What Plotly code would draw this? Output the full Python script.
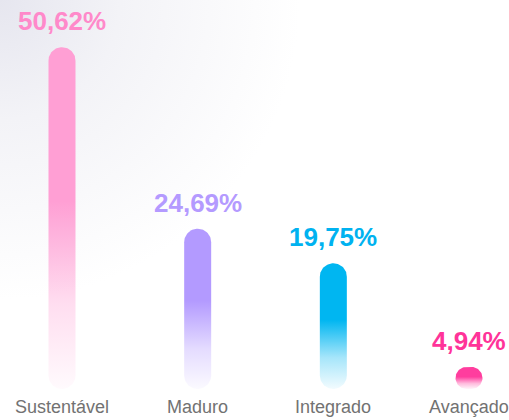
import base64
import numpy as np
import plotly.graph_objects as go

# ---- data ----
categories = ["Sustentável", "Maduro", "Integrado", "Avançado"]
values = [50.62, 24.69, 19.75, 4.94]
value_labels = ["50,62%", "24,69%", "19,75%", "4,94%"]
bar_colors = ["#FF9FD4", "#B39AFF", "#00B6F1", "#FF3D9E"]
text_colors = ["#FF89CA", "#B49AFF", "#00B2F0", "#FF3399"]

# ---- layout constants (pixels) ----
W, H = 509, 420
SPACING_PX = 135.67
FIRST_CENTER_PX = 62
PX_PER_PCT = 7.0
ZERO_FROM_BOTTOM_PX = 18.5
BAR_BASE = 1.79          # bars start slightly above zero
BAR_WIDTH_PX = 27
RADIUS_PX = 13.5

x_range = [-FIRST_CENTER_PX / SPACING_PX, (W - FIRST_CENTER_PX) / SPACING_PX]
y_range = [-ZERO_FROM_BOTTOM_PX / PX_PER_PCT, (H - ZERO_FROM_BOTTOM_PX) / PX_PER_PCT]
px_x = SPACING_PX
px_y = PX_PER_PCT


def hex_rgb(h):
    h = h.lstrip("#")
    return tuple(int(h[i:i + 2], 16) for i in (0, 2, 4))


def rounded_rect(cx, y0, y1):
    hw = BAR_WIDTH_PX / 2 / px_x
    h_px = (y1 - y0) * px_y
    r_px = min(RADIUS_PX, h_px / 2)
    rx = r_px / px_x
    ry = r_px / px_y
    xs, ys = [], []
    corners = [
        (cx + hw - rx, y1 - ry, 0, 90),
        (cx - hw + rx, y1 - ry, 90, 180),
        (cx - hw + rx, y0 + ry, 180, 270),
        (cx + hw - rx, y0 + ry, 270, 360),
    ]
    for ccx, ccy, a0, a1 in corners:
        t = np.radians(np.linspace(a0, a1, 20))
        xs.extend(ccx + rx * np.cos(t))
        ys.extend(ccy + ry * np.sin(t))
    xs.append(xs[0])
    ys.append(ys[0])
    return xs, ys


fig = go.Figure()

for i, (v, c) in enumerate(zip(values, bar_colors)):
    xs, ys = rounded_rect(i, BAR_BASE, v)
    r, g, b = hex_rgb(c)
    fig.add_trace(go.Scatter(
        x=xs, y=ys, mode="lines", line=dict(width=0), fill="toself",
        fillgradient=dict(
            type="vertical", start=BAR_BASE, stop=v,
            colorscale=[[0, f"rgba({r},{g},{b},0.05)"],
                        [0.25, f"rgba({r},{g},{b},0.35)"],
                        [0.55, f"rgba({r},{g},{b},1)"],
                        [1, f"rgba({r},{g},{b},1)"]],
        ),
        hoverinfo="skip", showlegend=False,
    ))

annotations = []
for i, (v, lab, tc, cat) in enumerate(zip(values, value_labels, text_colors, categories)):
    annotations.append(dict(
        x=i, y=v, xref="x", yref="y", text=f"<b>{lab}</b>", showarrow=False,
        yanchor="middle", yshift=26,
        font=dict(family="Liberation Sans, Arial, sans-serif", size=26, color=tc),
    ))
    annotations.append(dict(
        x=i, y=0, xref="x", yref="paper", text=cat, showarrow=False,
        yanchor="bottom", yshift=1,
        font=dict(family="Liberation Sans, Arial, sans-serif", size=18, color="#727272"),
    ))

# soft tint in the top-left corner of the background
svg = (
    f'<svg xmlns="http://www.w3.org/2000/svg" width="{W}" height="{H}">'
    '<defs><radialGradient id="g" gradientUnits="userSpaceOnUse" cx="0" cy="0" r="300">'
    '<stop offset="0" stop-color="#E6E6EF"/>'
    '<stop offset="0.4" stop-color="#F3F3F7"/>'
    '<stop offset="1" stop-color="#FFFFFF"/>'
    '</radialGradient></defs>'
    f'<rect width="{W}" height="{H}" fill="url(#g)"/></svg>'
)
bg_uri = "data:image/svg+xml;base64," + base64.b64encode(svg.encode()).decode()

fig.update_layout(
    width=W, height=H,
    margin=dict(l=0, r=0, t=0, b=0),
    paper_bgcolor="white", plot_bgcolor="rgba(0,0,0,0)",
    xaxis=dict(range=x_range, visible=False, fixedrange=True),
    yaxis=dict(range=y_range, visible=False, fixedrange=True),
    annotations=annotations,
    images=[dict(source=bg_uri, xref="paper", yref="paper", x=0, y=1,
                 sizex=1, sizey=1, sizing="stretch", xanchor="left",
                 yanchor="top", layer="below")],
    showlegend=False,
)

fig.write_html(
    "out.html",
    config={"displayModeBar": False},
    post_script="document.body.style.margin='0';document.body.style.padding='0';",
)
